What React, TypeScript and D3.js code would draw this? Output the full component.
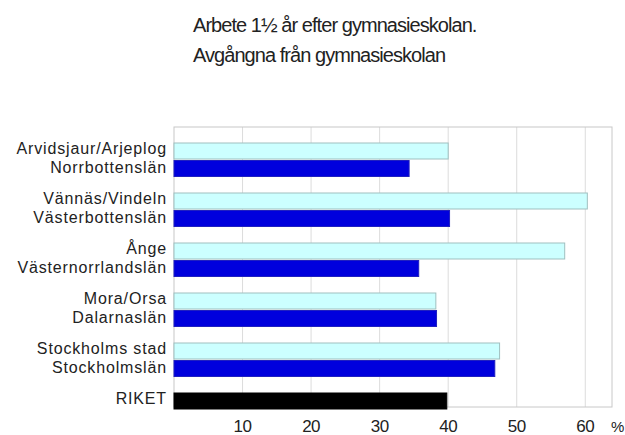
import React from "react";
import * as d3 from "d3";

const groups = ["Norrbotten", "Västerbotten", "Västernorrland", "Dalarna", "Stockholm", "Riket"];
const kommunLabels = ["Arvidsjaur/Arjeplog", "Vännäs/Vindeln", "Ånge", "Mora/Orsa", "Stockholms stad", "RIKET"];
const lanLabels = ["Norrbottenslän", "Västerbottenslän", "Västernorrlandslän", "Dalarnaslän", "Stockholmslän", ""];
const kommunValues = [40, 60.3, 57, 38.2, 47.5, 39.8];
const lanValues = [34.3, 40.2, 35.7, 38.3, 46.8, NaN];
const ticks = [10, 20, 30, 40, 50, 60];
const titleLines = ["Arbete 1½ år efter gymnasieskolan.", "Avgångna från gymnasieskolan"];

const W = 625, H = 435;
const plot = { left: 174, right: 612, top: 127, bottom: 407 };

export default function App() {
  const x = d3.scaleLinear().domain([0, 63.9]).range([plot.left, plot.right]);
  const y = d3.scaleBand<string>().domain(groups).range([plot.top, plot.top + 315]).paddingInner(0.34).paddingOuter(0.32);
  const bh = y.bandwidth() / 2 - 0.5;
  const font = "'Liberation Sans', Arial, sans-serif";
  return (
    <svg width={W} height={H} style={{ position: "absolute", left: 0, top: 0 }}>
      <rect x={0} y={0} width={W} height={H} fill="#fff" />
      {titleLines.map((t, i) => (
        <text key={i} x={193} y={32 + i * 30} fontFamily={font} fontSize={20} letterSpacing={-0.95} fill="#222">{t}</text>
      ))}
      {ticks.map((t) => (
        <line key={t} x1={x(t)} x2={x(t)} y1={plot.top} y2={plot.bottom} stroke="#dcdcdc" strokeWidth={1} />
      ))}
      <rect x={plot.left} y={plot.top} width={plot.right - plot.left} height={plot.bottom - plot.top} fill="none" stroke="#c8c8c8" strokeWidth={1} />
      {groups.map((g, i) => {
        const y0 = y(g)!;
        const isRiket = i === groups.length - 1;
        return (
          <g key={g}>
            <rect x={x(0)} y={y0} width={x(kommunValues[i]) - x(0)} height={bh}
              fill={isRiket ? "#000" : "#ccffff"} stroke={isRiket ? "#000" : "#9fbfbf"} strokeWidth={1} />
            {!isNaN(lanValues[i]) && (
              <rect x={x(0)} y={y0 + bh + 1.5} width={x(lanValues[i]) - x(0)} height={bh}
                fill="#0000dd" stroke="#2020c0" strokeWidth={1} />
            )}
            <text x={167} y={y0 + 11} textAnchor="end" fontFamily={font} fontSize={16} letterSpacing={0.85} fill="#222">{kommunLabels[i]}</text>
            {lanLabels[i] && (
              <text x={167} y={y0 + 29.5} textAnchor="end" fontFamily={font} fontSize={16} letterSpacing={0.85} fill="#222">{lanLabels[i]}</text>
            )}
          </g>
        );
      })}
      {ticks.map((t) => (
        <text key={t} x={x(t)} y={432} textAnchor="middle" fontFamily={font} fontSize={17} letterSpacing={-0.5} fill="#222">{t}</text>
      ))}
      <text x={611} y={432} fontFamily={font} fontSize={15} letterSpacing={-0.5} fill="#222">%</text>
    </svg>
  );
}
